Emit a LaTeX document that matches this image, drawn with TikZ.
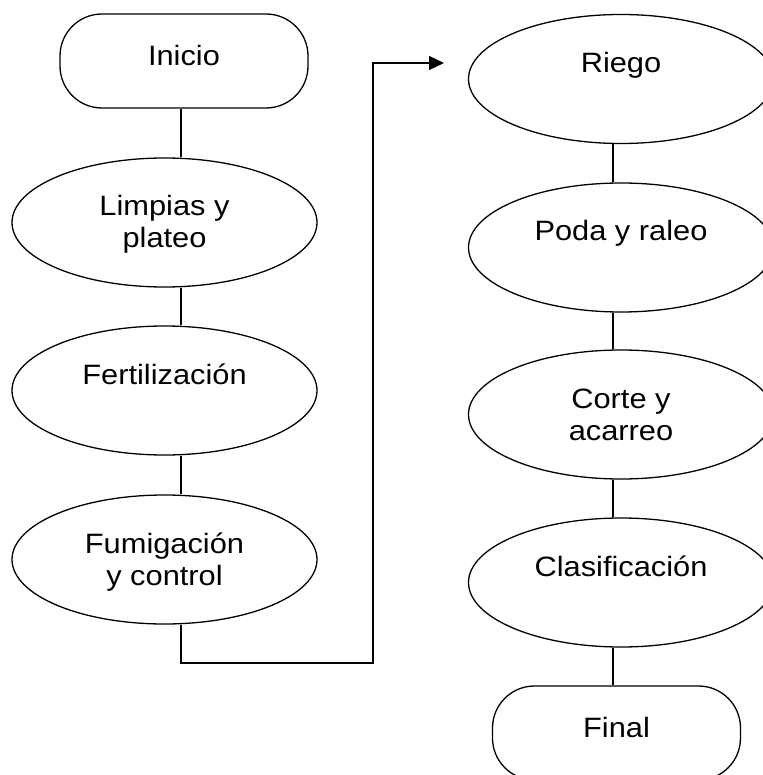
\documentclass[tikz,border=0pt]{standalone}
\usepackage{fontspec}
\setmainfont[FakeStretch=1.1]{Liberation Sans}
\usetikzlibrary{shapes.geometric,arrows.meta}

% text sits high in the shape, first baseline raised by #1
\newcommand{\flowtext}[2]{\makebox[0pt]{\smash{\raisebox{#1}{\parbox[t]{300pt}{\centering #2}}}}}

\begin{document}
\begin{tikzpicture}[x=1pt, y=-1pt, line width=1.3pt,
	every node/.style={font=\fontsize{28pt}{32pt}\selectfont, inner sep=0pt},
	terminal/.style={draw, rectangle, rounded corners=42pt, minimum width=248pt, minimum height=94pt},
	task/.style={draw, ellipse, minimum width=305pt, minimum height=129pt}]
	\useasboundingbox (0,0) rectangle (762,775);
	% Left column:
	\node[terminal] (inicio) at (184, 61) {\flowtext{-4.5pt}{Inicio}};
	\node[task] (limpias) at (164.5, 222.5) {\flowtext{6.5pt}{Limpias y\\plateo}};
	\node[task] (fertil) at (164.5, 390.5) {\flowtext{6.5pt}{Fertilización}};
	\node[task] (fumig) at (164.5, 559.5) {\flowtext{6.5pt}{Fumigación\\y control}};
	% Right column:
	\node[task] (riego) at (621, 79) {\flowtext{6.5pt}{Riego}};
	\node[task] (poda) at (621, 247.5) {\flowtext{6.5pt}{Poda y raleo}};
	\node[task] (corte) at (621, 414.5) {\flowtext{6.5pt}{Corte y\\acarreo}};
	\node[task] (clasif) at (621, 582.5) {\flowtext{6.5pt}{Clasificación}};
	\node[terminal] (final) at (616.5, 733) {\flowtext{-4.5pt}{Final}};
	% Wires:
	\coordinate (colL) at (181, 0);
	\coordinate (colR) at (613, 0);
	\coordinate (bend) at (373, 663);
	\coordinate (tip) at (444, 63);
	\draw (inicio.south -| colL) -- (limpias.north -| colL);
	\draw (limpias.south -| colL) -- (fertil.north -| colL);
	\draw (fertil.south -| colL) -- (fumig.north -| colL);
	\draw[-{Triangle[length=15pt, width=14pt]}] (fumig.south -| colL) |- (bend) -- (bend |- tip) -- (tip);
	\draw (riego.south -| colR) -- (poda.north -| colR);
	\draw (poda.south -| colR) -- (corte.north -| colR);
	\draw (corte.south -| colR) -- (clasif.north -| colR);
	\draw (clasif.south -| colR) -- (final.north -| colR);
\end{tikzpicture}
\end{document}
